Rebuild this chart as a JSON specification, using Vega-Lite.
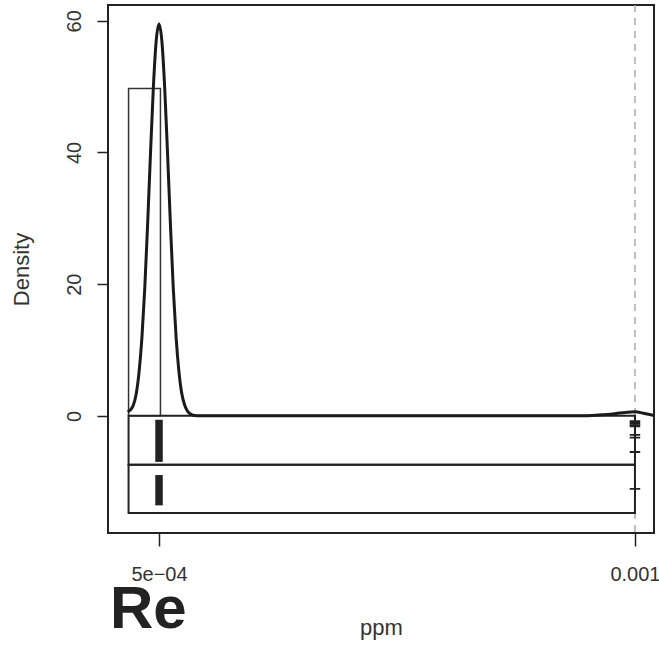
{
  "$schema": "https://vega.github.io/schema/vega-lite/v6.json",
  "autosize": {"type": "none"},
  "width": 546,
  "height": 528,
  "padding": {"left": 108, "top": 5, "right": 5, "bottom": 113},
  "background": "white",
  "config": {
    "view": {"stroke": "#222", "strokeWidth": 2},
    "font": "Liberation Sans",
    "axis": {"grid": false, "domain": false, "tickColor": "#222", "tickWidth": 1.5, "labelColor": "#333", "titleColor": "#333", "labelFont": "Liberation Sans", "titleFont": "Liberation Sans", "titleFontWeight": "normal"}
  },
  "title": {
    "text": "Re",
    "orient": "bottom",
    "anchor": "start",
    "frame": "group",
    "font": "Liberation Sans",
    "fontSize": 60,
    "fontWeight": "bold",
    "color": "#222",
    "baseline": "alphabetic",
    "offset": 0,
    "dx": 2,
    "dy": -10
  },
  "datasets": {
    "curve": [
      {"x": 0.000467, "y": 0.6},
      {"x": 0.000470, "y": 0.9},
      {"x": 0.000473, "y": 1.6},
      {"x": 0.000476, "y": 3.3},
      {"x": 0.000479, "y": 6.6},
      {"x": 0.000482, "y": 11.8},
      {"x": 0.000485, "y": 19.3},
      {"x": 0.000488, "y": 29.0},
      {"x": 0.000491, "y": 39.7},
      {"x": 0.000494, "y": 49.7},
      {"x": 0.000497, "y": 56.9},
      {"x": 0.000500, "y": 59.5},
      {"x": 0.000503, "y": 56.9},
      {"x": 0.000506, "y": 49.7},
      {"x": 0.000509, "y": 39.7},
      {"x": 0.000512, "y": 29.0},
      {"x": 0.000515, "y": 19.3},
      {"x": 0.000518, "y": 11.8},
      {"x": 0.000521, "y": 6.6},
      {"x": 0.000524, "y": 3.3},
      {"x": 0.000527, "y": 1.6},
      {"x": 0.000530, "y": 0.7},
      {"x": 0.000533, "y": 0.26},
      {"x": 0.000536, "y": 0.09},
      {"x": 0.000540, "y": 0.02},
      {"x": 0.000560, "y": 0.0},
      {"x": 0.000700, "y": 0.0},
      {"x": 0.000900, "y": 0.0},
      {"x": 0.000950, "y": 0.02},
      {"x": 0.000965, "y": 0.15},
      {"x": 0.000980, "y": 0.35},
      {"x": 0.000990, "y": 0.5},
      {"x": 0.001000, "y": 0.6},
      {"x": 0.001010, "y": 0.35},
      {"x": 0.001020, "y": 0.05}
    ],
    "hist": [
      {"x": 0.000468, "x2": 0.0005015, "y": 0, "y2": 49.7}
    ],
    "boxes": [
      {"x": 0.000468, "x2": 0.001, "y": 0, "y2": -7.45},
      {"x": 0.000468, "x2": 0.001, "y": -7.45, "y2": -14.75}
    ],
    "rug": [
      {"x": 0.0005, "y": -0.6, "y2": -7.0},
      {"x": 0.0005, "y": -9.0, "y2": -13.6}
    ],
    "plus": [
      {"x": 0.001, "y": -0.8},
      {"x": 0.001, "y": -1.0},
      {"x": 0.001, "y": -1.2},
      {"x": 0.001, "y": -1.4},
      {"x": 0.001, "y": -1.6},
      {"x": 0.001, "y": -2.9},
      {"x": 0.001, "y": -3.3},
      {"x": 0.001, "y": -5.5},
      {"x": 0.001, "y": -11.1}
    ],
    "ref": [{"x": 0.001}]
  },
  "layer": [
    {
      "data": {"name": "ref"},
      "mark": {"type": "rule", "color": "#aaa", "strokeWidth": 1.5, "strokeDash": [7, 6]},
      "encoding": {
        "x": {
          "field": "x", "type": "quantitative",
          "scale": {"domain": [0.0004464, 0.00102], "nice": false, "zero": false},
          "axis": {
            "values": [0.0005, 0.001],
            "labelExpr": "datum.value < 0.0007 ? '5e\u221204' : '0.001'",
            "tickSize": 13,
            "labelFontSize": 20,
            "labelBaseline": "alphabetic",
            "labelPadding": 34,
            "labelFlush": false,
            "labelOverlap": false,
            "title": "ppm",
            "titleFontSize": 22,
            "titleBaseline": "alphabetic",
            "titleY": 101
          }
        }
      }
    },
    {
      "data": {"name": "hist"},
      "mark": {"type": "rect", "fill": null, "fillOpacity": 0, "stroke": "#333", "strokeWidth": 1.5},
      "encoding": {
        "x": {"field": "x", "type": "quantitative"},
        "x2": {"field": "x2"},
        "y": {
          "field": "y", "type": "quantitative",
          "scale": {"domain": [-17.8, 62.4], "nice": false, "zero": false},
          "axis": {
            "values": [0, 20, 40, 60],
            "tickSize": 11,
            "labelFontSize": 20,
            "labelAngle": -90,
            "labelAlign": "center",
            "labelBaseline": "alphabetic",
            "labelPadding": 17,
            "title": "Density",
            "titleFontSize": 22,
            "titleAngle": -90,
            "titleBaseline": "alphabetic",
            "titleX": -80
          }
        },
        "y2": {"field": "y2"}
      }
    },
    {
      "data": {"name": "boxes"},
      "mark": {"type": "rect", "fill": null, "fillOpacity": 0, "stroke": "#222", "strokeWidth": 2},
      "encoding": {
        "x": {"field": "x", "type": "quantitative"},
        "x2": {"field": "x2"},
        "y": {"field": "y", "type": "quantitative"},
        "y2": {"field": "y2"}
      }
    },
    {
      "data": {"name": "rug"},
      "mark": {"type": "rule", "color": "#222", "strokeWidth": 7.5},
      "encoding": {
        "x": {"field": "x", "type": "quantitative"},
        "y": {"field": "y", "type": "quantitative"},
        "y2": {"field": "y2"}
      }
    },
    {
      "data": {"name": "plus"},
      "mark": {"type": "point", "shape": "M-1,0H1M0,-1V1", "filled": false, "stroke": "#222", "strokeWidth": 1.8, "size": 110, "opacity": 1},
      "encoding": {
        "x": {"field": "x", "type": "quantitative"},
        "y": {"field": "y", "type": "quantitative"}
      }
    },
    {
      "data": {"name": "curve"},
      "mark": {"type": "line", "color": "#1a1a1a", "strokeWidth": 3, "interpolate": "monotone"},
      "encoding": {
        "x": {"field": "x", "type": "quantitative"},
        "y": {"field": "y", "type": "quantitative"}
      }
    }
  ]
}
